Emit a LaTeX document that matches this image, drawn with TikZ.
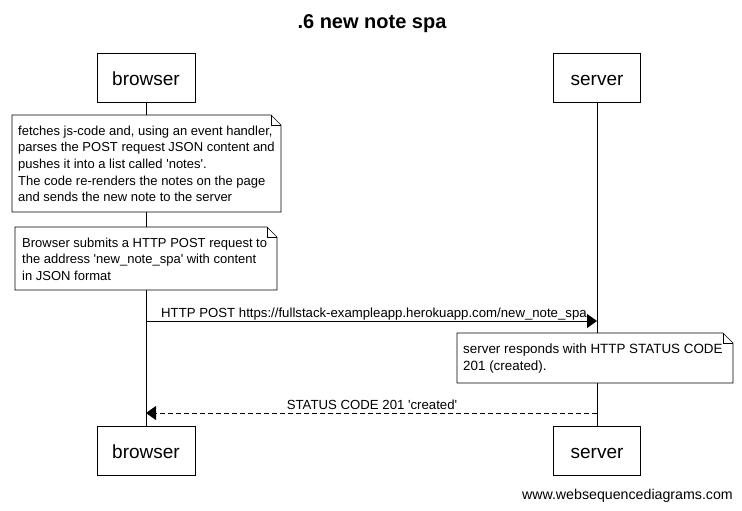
\documentclass[tikz,border=0pt]{standalone}
\usepackage{fontspec}
\setmainfont{Liberation Sans}[Ligatures=TeXOff]
\usetikzlibrary{arrows.meta}
\begin{document}
\begin{tikzpicture}[x=1pt,y=-1pt,
  actor/.style={draw,fill=white,line width=0.8pt,minimum height=49pt,inner sep=0pt,text height=18pt,text depth=3pt,font=\fontsize{19}{22}\selectfont},
  notebox/.style={fill=white,line width=0.6pt},
  notetext/.style={font=\fontsize{13}{16.7}\selectfont,align=left,anchor=north west,inner sep=0pt},
  msg/.style={font=\fontsize{13.2}{15}\selectfont,inner sep=0pt},
  life/.style={line width=0.6pt},
  arr/.style={line width=0.8pt,-{Triangle[length=10pt,width=14pt]}}]
\useasboundingbox (0,0) rectangle (742,511);
\fill[white] (0,0) rectangle (742,511);
\node[font=\bfseries\fontsize{20}{24}\selectfont] (title) at (372,24) {.6 new note spa};
% actors
\node[actor,minimum width=98pt] (bt) at (146,77.5) {browser};
\node[actor,minimum width=87pt] (st) at (597,77.5) {server};
\node[actor,minimum width=98pt] (bb) at (146,451) {browser};
\node[actor,minimum width=87pt] (sb) at (597,451) {server};
\draw[life] (bt.south) -- (bb.north);
\draw[life] (st.south) -- (sb.north);
% note 1
\draw[notebox] (12,115) -- (271,115) -- (281,125) -- (281,212) -- (12,212) -- cycle;
\draw[line width=0.6pt] (271,115) -- (271,125) -- (281,125);
\node[notetext] (n1) at (18,125.5) {fetches js-code and, using an event handler,\\parses the POST request JSON content and\\pushes it into a list called 'notes'.\\The code re-renders the notes on the page\\and sends the new note to the server};
% note 2
\draw[notebox] (15,227) -- (267,227) -- (277,237) -- (277,290) -- (15,290) -- cycle;
\draw[line width=0.6pt] (267,227) -- (267,237) -- (277,237);
\node[notetext] (n2) at (22,237.5) {Browser submits a HTTP POST request to\\the address 'new\_note\_spa' with content\\in JSON format};
% message 1
\coordinate (m1s) at (146,321);
\coordinate (m1e) at (597,321);
\draw[arr] (m1s) -- (m1e);
\node[msg,anchor=base west] (l1) at (161,317) {HTTP POST https://fullstack-exampleapp.herokuapp.com/new\_note\_spa};
% note 3
\draw[notebox] (457,333) -- (723,333) -- (733,343) -- (733,383) -- (457,383) -- cycle;
\draw[line width=0.6pt] (723,333) -- (723,343) -- (733,343);
\node[notetext,font=\fontsize{13.4}{16.7}\selectfont] (n3) at (463,343.5) {server responds with HTTP STATUS CODE\\201 (created).};
% message 2
\coordinate (m2s) at (597,413);
\coordinate (m2e) at (146,413);
\draw[arr,dash pattern=on 5pt off 3pt] (m2s) -- (m2e);
\node[msg,anchor=base] (l2) at (372,409) {STATUS CODE 201 'created'};
% footer
\node[font=\fontsize{14.2}{17}\selectfont,anchor=base east,inner sep=0pt] (foot) at (733,499) {www.websequencediagrams.com};
\end{tikzpicture}
\end{document}
